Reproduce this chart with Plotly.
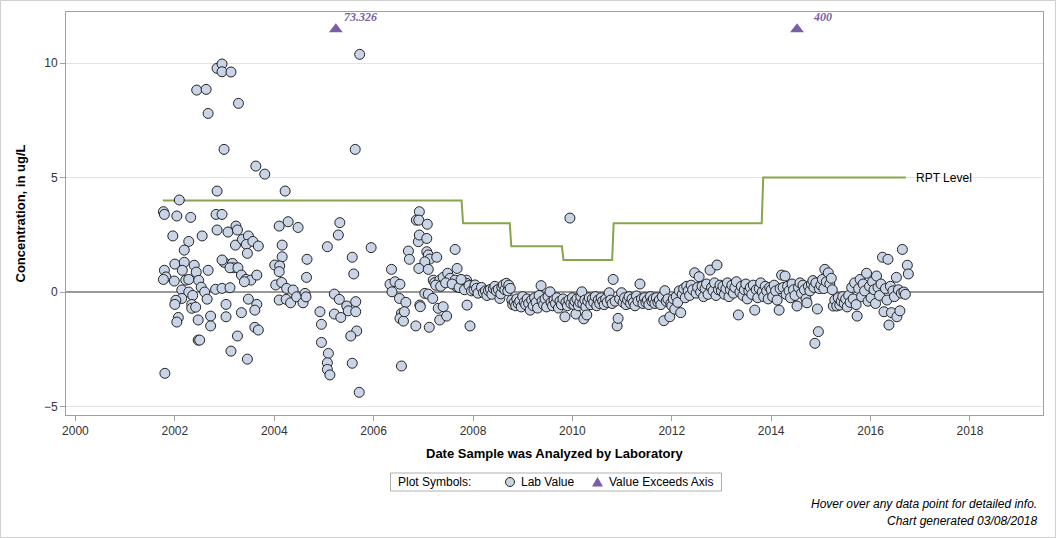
import plotly.graph_objects as go

# ---------------- data ----------------
# Lab values: decimal year of analysis, concentration (ug/L)
early_years = [
    2001.77, 2001.79, 2002.04, 2002.32, 2002.83, 2002.95, 2001.96, 2002.28, 2002.55, 2002.85,
    2003.07, 2003.23, 2003.26, 2002.19, 2003.22, 2003.36, 2003.48, 2003.44, 2003.46, 2003.57,
    2003.68, 2002.00, 2002.19, 2002.39, 2002.43, 2002.67, 2001.79, 2001.82, 2001.77, 2001.99,
    2002.15, 2002.22, 2002.28, 2002.48, 2002.53, 2002.14, 2002.60, 2002.28, 2002.36, 2002.65,
    2002.14, 2002.02, 2002.00, 2002.34, 2002.34, 2002.42, 2002.82, 2002.95, 2003.11, 2002.99,
    2002.95, 2003.16, 2003.18, 2003.11, 2003.27, 2003.34, 2003.43, 2003.53, 2003.40, 2003.65,
    2003.48, 2003.65, 2003.03, 2003.61, 2003.34, 2003.03, 2002.72, 2002.72, 2002.47, 2002.07,
    2002.04, 2003.26, 2002.47, 2002.50, 2003.13, 2003.46, 2003.61, 2003.68, 2001.80, 2002.44,
    2002.63, 2002.67, 2002.85, 2002.95, 2002.95, 2003.13, 2003.28, 2002.99, 2003.63, 2003.81,
    2002.85, 2002.09, 2004.22, 2004.28, 2004.10, 2004.48, 2004.16, 2004.16, 2004.01, 2004.11,
    2004.10, 2004.03, 2004.15, 2004.25, 2004.38, 2004.10, 2004.24, 2004.33, 2004.45, 2004.58,
    2004.62, 2004.64, 2004.65, 2004.66, 2004.92, 2004.95, 2004.95, 2005.09, 2005.07, 2005.07,
    2005.12, 2005.07, 2005.29, 2005.32, 2005.21, 2005.31, 2005.21, 2005.34, 2005.46, 2005.49,
    2005.64, 2005.64, 2005.66, 2005.54, 2005.57, 2005.71, 2005.57, 2005.60, 2005.95, 2005.72,
    2005.63, 2006.36, 2006.33, 2006.43, 2006.53, 2006.37, 2006.52, 2006.65, 2006.56, 2006.53,
    2006.60, 2006.62, 2006.56, 2006.85, 2006.70, 2006.72, 2006.92, 2006.86, 2006.91, 2007.08,
    2006.90, 2006.92, 2007.07, 2007.07, 2007.10, 2007.13, 2007.27, 2007.03, 2006.91, 2007.10,
    2007.64, 2007.68, 2006.93, 2006.94, 2007.12, 2007.03, 2007.10, 2007.19, 2007.30, 2007.40,
    2007.33, 2007.47, 2007.94, 2007.88, 2007.20, 2007.23, 2007.33, 2007.40, 2007.49, 2007.54,
    2007.64, 2007.67, 2007.80, 2007.87, 2007.87, 2007.25, 2007.35, 2007.45, 2007.58, 2007.72,
    2007.76, 2007.83, 2007.92, 2007.97,
]
early_values = [
    3.51, 3.39, 3.32, 3.26, 3.39, 3.39, 2.45, 2.21, 2.45, 2.71,
    2.62, 2.88, 2.71, 1.83, 2.05, 2.30, 2.45, 2.08, 1.69, 2.21,
    2.01, 1.22, 1.30, 1.17, 0.87, 0.95, 0.95, 0.66, 0.55, 0.48,
    0.95, 0.52, 0.55, 0.51, 0.21, 0.09, 0.00, 0.00, -0.15, -0.31,
    -0.28, -0.36, -0.54, -0.54, -0.71, -0.66, 0.12, 0.16, 0.19, 1.30,
    1.40, 1.25, 1.06, 1.06, 1.06, 0.74, 0.55, 0.52, 0.45, 0.74,
    -0.31, -0.54, -0.54, -0.79, -0.90, -1.08, -1.05, -1.48, -1.22, -1.11,
    -1.31, -1.92, -2.10, -2.10, -2.58, -2.93, -1.54, -1.66, -3.55, 8.82,
    8.85, 7.80, 9.77, 9.96, 9.62, 9.61, 8.24, 6.23, 5.50, 5.15,
    4.41, 4.02, 4.41, 3.07, 2.88, 2.82, 2.05, 1.54, 1.18, 1.14,
    0.89, 0.31, 0.42, 0.16, 0.09, -0.35, -0.32, -0.47, -0.21, -0.47,
    -0.06, -0.21, 0.64, 1.43, -0.86, -1.41, -2.20, -2.68, -3.09, -3.38,
    -3.62, 1.98, 2.49, 3.03, -0.09, -0.32, -0.96, -1.11, -0.61, -0.82,
    -0.42, -0.86, -1.70, -1.92, -3.11, -4.38, 1.52, 0.79, 1.94, 10.38,
    6.23, 0.99, 0.34, 0.45, 0.34, 0.01, -0.28, -0.45, -0.93, -1.15,
    -1.27, -0.86, -3.23, -1.48, 1.79, 1.43, 3.51, 3.14, 3.14, 2.96,
    2.20, 2.49, 2.34, 1.76, 1.62, 1.44, 1.52, 1.32, 1.03, 0.99,
    1.86, 1.03, -0.57, -0.64, -1.54, -0.06, -0.09, -0.28, -0.71, -0.64,
    -1.22, -1.05, -1.48, -0.57, 0.52, 0.41, 0.52, 0.64, 0.82, 0.60,
    0.52, 0.23, 0.45, 0.52, 0.38, 0.30, 0.25, 0.40, 0.35, 0.20,
    0.55, 0.10, 0.28, 0.05,
]

late_years = [
    2008.02, 2008.04, 2008.07, 2008.10, 2008.17, 2008.21, 2008.25, 2008.28, 2008.31, 2008.35,
    2008.38, 2008.41, 2008.44, 2008.47, 2008.51, 2008.54, 2008.56, 2008.58, 2008.61, 2008.64,
    2008.67, 2008.70, 2008.72, 2008.75,
    2008.78, 2008.80, 2008.83, 2008.86, 2008.88, 2008.91, 2008.94, 2008.97, 2009.00, 2009.03,
    2009.06, 2009.09, 2009.12, 2009.15, 2009.18, 2009.21, 2009.24, 2009.27, 2009.30, 2009.33,
    2009.37, 2009.39, 2009.42, 2009.45, 2009.48, 2009.51, 2009.55, 2009.57, 2009.60, 2009.63,
    2009.66, 2009.69, 2009.72, 2009.75, 2009.78, 2009.81, 2009.85, 2009.87, 2009.90, 2009.93,
    2009.95, 2009.97,
    2010.00, 2010.03, 2010.05, 2010.07, 2010.09, 2010.12, 2010.15, 2010.17, 2010.19, 2010.21,
    2010.23, 2010.25, 2010.27, 2010.29, 2010.31, 2010.34, 2010.37, 2010.40, 2010.43, 2010.46,
    2010.49, 2010.52, 2010.55, 2010.58, 2010.61, 2010.64, 2010.67, 2010.70, 2010.74, 2010.77,
    2010.80, 2010.82,
    2010.86, 2010.90, 2010.92, 2010.95, 2010.99, 2011.02, 2011.05, 2011.08, 2011.11, 2011.14,
    2011.17, 2011.20, 2011.23, 2011.26, 2011.29, 2011.32, 2011.36, 2011.39, 2011.42, 2011.45,
    2011.48, 2011.51, 2011.54, 2011.57, 2011.60, 2011.63, 2011.66, 2011.69, 2011.72, 2011.75,
    2011.78, 2011.81, 2011.84, 2011.86, 2011.89, 2011.92, 2011.96, 2011.98,
    2012.00, 2012.03, 2012.06, 2012.09, 2012.12, 2012.15, 2012.18, 2012.21, 2012.24, 2012.27,
    2012.30, 2012.33, 2012.36, 2012.39, 2012.42, 2012.46, 2012.49, 2012.52, 2012.55, 2012.58,
    2012.61, 2012.64, 2012.67, 2012.70, 2012.73, 2012.77, 2012.80, 2012.83, 2012.86, 2012.89,
    2012.91, 2012.94, 2012.97,
    2013.00, 2013.03, 2013.06, 2013.09, 2013.12, 2013.15, 2013.18, 2013.21, 2013.24, 2013.27,
    2013.30, 2013.34, 2013.37, 2013.40, 2013.43, 2013.46, 2013.49, 2013.52, 2013.55, 2013.58,
    2013.61, 2013.64, 2013.67, 2013.70, 2013.73, 2013.76, 2013.79, 2013.82, 2013.85, 2013.88,
    2013.91, 2013.94, 2013.97,
    2014.00, 2014.03, 2014.06, 2014.09, 2014.12, 2014.16, 2014.18, 2014.21, 2014.24, 2014.28,
    2014.30, 2014.33, 2014.36, 2014.39, 2014.42, 2014.45, 2014.48, 2014.52, 2014.55, 2014.58,
    2014.61, 2014.64, 2014.67, 2014.70, 2014.72, 2014.75, 2014.78, 2014.81, 2014.84, 2014.86,
    2014.88, 2014.90, 2014.93, 2014.95, 2014.97,
    2015.00, 2015.03, 2015.06, 2015.08, 2015.11, 2015.15, 2015.18, 2015.21, 2015.23, 2015.25,
    2015.28, 2015.32, 2015.35, 2015.38, 2015.41, 2015.44, 2015.47, 2015.50, 2015.53, 2015.56,
    2015.59, 2015.62, 2015.65, 2015.68, 2015.71, 2015.73, 2015.76, 2015.79, 2015.82, 2015.85,
    2015.88, 2015.92, 2015.95, 2015.98,
    2016.01, 2016.04, 2016.07, 2016.10, 2016.12, 2016.15, 2016.18, 2016.21, 2016.24, 2016.27,
    2016.30, 2016.33, 2016.35, 2016.37, 2016.40, 2016.42, 2016.45, 2016.48, 2016.52, 2016.53,
    2016.56, 2016.59, 2016.62, 2016.64, 2016.67, 2016.70, 2016.74, 2016.76,
]
late_values = [
    0.10, 0.31, 0.16, -0.05, 0.20, -0.03, 0.05, -0.15, 0.06, 0.12,
    -0.10, 0.16, 0.25, 0.05, 0.12, -0.28, -0.08, 0.22, 0.31, 0.10,
    0.38, 0.05, 0.30, 0.16,
    -0.35, -0.55, -0.45, -0.60, -0.30, -0.50, -0.40, -0.65, -0.20, -0.45,
    -0.55, -0.30, -0.50, -0.79, -0.35, -0.60, -0.25, -0.45, -0.70, -0.15,
    0.28, -0.40, -0.55, -0.30, -0.65, -0.20, 0.01, -0.45, -0.60, -0.35,
    -0.50, -0.25, -0.70, -0.40, -0.55, -0.30, -1.08, -0.45, -0.60, -0.35,
    3.23, -0.50,
    -0.25, -0.55, -0.40, -0.96, -0.30, -0.60, -0.45, -0.20, 0.01, -0.50,
    -1.17, -0.35, -0.65, -1.00, -0.40, -0.25, -0.55, -0.30, -0.45, -0.20,
    -0.60, -0.35, -0.50, -0.25, -0.40, -0.55, -0.30, -0.45, -0.03, -0.35,
    -0.50, 0.55,
    -0.40, -1.48, -1.15, -0.30, -0.03, -0.45, -0.25, -0.55, -0.35, -0.20,
    -0.50, -0.30, -0.45, -0.60, -0.17, -0.40, 0.35, -0.30, -0.50, -0.25,
    -0.45, -0.35, -0.55, -0.20, -0.40, -0.30, -0.50, -0.25, -0.45, -0.35,
    -0.55, -0.20, -1.25, 0.06, -0.40, -0.30, -1.08, -0.50,
    -0.60, -0.30, -0.75, -0.20, -0.45, 0.05, -0.90, -0.10, 0.15, -0.25,
    0.25, 0.05, -0.15, 0.30, 0.10, 0.84, -0.05, 0.20, 0.67, 0.00,
    0.25, -0.20, 0.15, 0.35, -0.10, 0.96, 0.20, 0.05, 0.40, -0.15,
    1.18, 0.10, 0.30,
    0.05, 0.25, -0.10, 0.15, 0.40, -0.20, 0.10, 0.30, -0.05, 0.20,
    0.45, -1.00, 0.00, 0.25, -0.15, 0.10, 0.35, -0.30, 0.05, 0.20,
    -0.10, 0.30, -0.79, 0.10, -0.25, 0.15, 0.40, 0.00, -0.20, 0.25,
    0.05, -0.30, 0.20,
    0.10, -0.20, 0.30, 0.05, -0.35, -0.79, 0.15, 0.74, 0.20, 0.70,
    -0.10, 0.25, 0.05, -0.25, 0.35, 0.10, -0.15, -0.61, 0.20, 0.40,
    -0.05, 0.30, 0.10, -0.30, -0.47, 0.25, 0.05, 0.35, 0.50, 0.20,
    -2.24, 0.40, -0.74, -1.73, 0.15,
    0.30, 0.55, 0.15, 0.99, 0.45, 0.84, 0.35, 0.60, 0.10, -0.61,
    -0.35, -0.61, -0.25, -0.57, -0.40, -0.20, -0.50, -0.30, -0.65, -0.15,
    -0.45, 0.20, -0.30, 0.40, -0.55, -1.05, 0.15, 0.55, -0.20, 0.35,
    0.05, 0.82, -0.40, 0.25,
    -0.25, 0.45, 0.10, -0.50, 0.70, 0.20, -0.15, 0.35, 1.52, -0.86,
    0.15, -0.35, 1.43, -1.44, 0.25, -0.90, 0.05, -0.20, 0.64, -1.08,
    0.10, -0.82, -0.05, 1.86, 0.00, -0.10, 1.17, 0.79,
]

lab_years = early_years + late_years
lab_values = early_values + late_values

# Values that exceed the axis (plotted at the axis cap, labelled with true value)
exceed_years = [2005.24, 2014.52]
exceed_values = [73.326, 400]
axis_cap = 11.48

# Reporting level (RPT) step line
rpt_years = [2001.76, 2007.77, 2007.80, 2008.74, 2008.77, 2009.79, 2009.82, 2010.80, 2010.83,
             2013.81, 2013.84, 2016.71]
rpt_values = [4, 4, 3, 3, 2, 2, 1.4, 1.4, 3, 3, 5, 5]

x_ticks = [2000, 2002, 2004, 2006, 2008, 2010, 2012, 2014, 2016, 2018]
y_ticks = [-5, 0, 5, 10]

# ---------------- figure ----------------
FONT = "Liberation Sans, Arial, sans-serif"
W, H = 1056, 538
ML, MR, MT, MB = 66, 13, 12, 123
PW, PH = W - ML - MR, H - MT - MB

LAB_FILL = "#c9d5e6"
EXC_COLOR = "#7b5ea7"


def px(xp):
    return (xp - ML) / PW


def py(yp):
    return (H - MB - yp) / PH


fig = go.Figure()

fig.add_trace(go.Scatter(
    x=rpt_years, y=rpt_values, mode="lines",
    line=dict(color="#86a64a", width=2),
    showlegend=False, hoverinfo="skip"))

fig.add_trace(go.Scatter(
    x=lab_years, y=lab_values, mode="markers", name="Lab Value",
    showlegend=False,
    marker=dict(symbol="circle", size=10, color=LAB_FILL,
                line=dict(color="#222222", width=1))))

fig.add_trace(go.Scatter(
    x=exceed_years, y=[axis_cap] * len(exceed_years), mode="markers",
    name="Value Exceeds Axis", showlegend=False,
    marker=dict(symbol="triangle-up", size=12, color=EXC_COLOR,
                line=dict(width=0)),
    customdata=exceed_values,
    hovertemplate="%{customdata}<extra></extra>"))

for xv, val in zip(exceed_years, exceed_values):
    fig.add_annotation(x=xv, y=axis_cap, text="<b><i>%s</i></b>" % val,
                       showarrow=False, xanchor="center", yanchor="middle",
                       xshift=25, yshift=12,
                       font=dict(family="Liberation Serif, Times New Roman, serif",
                                 size=12, color=EXC_COLOR))

fig.add_annotation(x=rpt_years[-1], y=rpt_values[-1], text="RPT Level",
                   showarrow=False, xanchor="left", yanchor="middle", xshift=8,
                   font=dict(family=FONT, size=12, color="#000000"))

fig.add_annotation(xref="paper", yref="paper", x=px(20), y=0.5,
                   text="<b>Concentration, in ug/L</b>", textangle=-90,
                   showarrow=False, xanchor="center", yanchor="middle",
                   font=dict(family=FONT, size=13, color="#000000"))
fig.add_annotation(xref="paper", yref="paper", x=0.5, y=py(454),
                   text="<b>Date Sample was Analyzed by Laboratory</b>",
                   showarrow=False, xanchor="center", yanchor="middle",
                   font=dict(family=FONT, size=13, color="#000000"))
fig.add_annotation(xref="paper", yref="paper", x=px(1039), y=py(504),
                   text="<i>Hover over any data point for detailed info.</i>",
                   showarrow=False, xanchor="right", yanchor="middle",
                   font=dict(family=FONT, size=12, color="#000000"))
fig.add_annotation(xref="paper", yref="paper", x=px(1039), y=py(521),
                   text="<i>Chart generated 03/08/2018</i>",
                   showarrow=False, xanchor="right", yanchor="middle",
                   font=dict(family=FONT, size=12, color="#000000"))

# ---- legend box (Plot Symbols) ----
LEG_Y = 482
fig.add_shape(type="rect", xref="paper", yref="paper",
              x0=px(390.5), x1=px(721.5), y0=py(LEG_Y + 9), y1=py(LEG_Y - 9),
              line=dict(color="#b0b0b0", width=1), fillcolor="white")
fig.add_annotation(xref="paper", yref="paper", x=px(396), y=py(LEG_Y),
                   text="Plot Symbols:", showarrow=False, xanchor="left", yanchor="middle",
                   font=dict(family=FONT, size=12, color="#000000"))
fig.add_shape(type="circle", xref="paper", yref="paper",
              x0=px(505.5), x1=px(514.5), y0=py(LEG_Y + 4.5), y1=py(LEG_Y - 4.5),
              line=dict(color="#222222", width=1), fillcolor=LAB_FILL)
fig.add_annotation(xref="paper", yref="paper", x=px(519), y=py(LEG_Y),
                   text="Lab Value", showarrow=False, xanchor="left", yanchor="middle",
                   font=dict(family=FONT, size=12, color="#000000"))
tx0, tx1, tx2 = px(592), px(597.5), px(603)
ty0, ty1 = py(LEG_Y + 4.5), py(LEG_Y - 5)
fig.add_shape(type="path", xref="paper", yref="paper",
              path="M %f %f L %f %f L %f %f Z" % (tx0, ty0, tx1, ty1, tx2, ty0),
              line=dict(width=0), fillcolor=EXC_COLOR)
fig.add_annotation(xref="paper", yref="paper", x=px(607), y=py(LEG_Y),
                   text="Value Exceeds Axis", showarrow=False, xanchor="left", yanchor="middle",
                   font=dict(family=FONT, size=12, color="#000000"))

# outer figure border
fig.add_shape(type="rect", xref="paper", yref="paper",
              x0=px(0.5), x1=px(W - 0.5), y0=py(H - 0.5), y1=py(0.5),
              line=dict(color="#cfcfcf", width=1), layer="below")

fig.update_layout(
    width=W, height=H,
    margin=dict(l=ML, r=MR, t=MT, b=MB, pad=0),
    paper_bgcolor="white", plot_bgcolor="white",
    font=dict(family=FONT, size=12, color="#333333"),
    hovermode="closest",
    showlegend=False,
    xaxis=dict(range=[1999.81, 2019.47], tickvals=x_ticks,
               ticktext=[str(t) for t in x_ticks],
               showgrid=False, zeroline=False,
               showline=True, linecolor="#a0a0a0", linewidth=1, mirror=True,
               ticks="outside", ticklen=5, tickcolor="#a0a0a0",
               tickfont=dict(family=FONT, size=12, color="#333333")),
    yaxis=dict(range=[-5.37, 12.23], tickvals=y_ticks,
               showgrid=True, gridcolor="#e3e3e3", gridwidth=1,
               zeroline=True, zerolinecolor="#999999", zerolinewidth=2,
               showline=True, linecolor="#a0a0a0", linewidth=1, mirror=True,
               ticks="outside", ticklen=5, tickcolor="#a0a0a0",
               tickfont=dict(family=FONT, size=12, color="#333333")),
)

fig.write_html("out.html")
